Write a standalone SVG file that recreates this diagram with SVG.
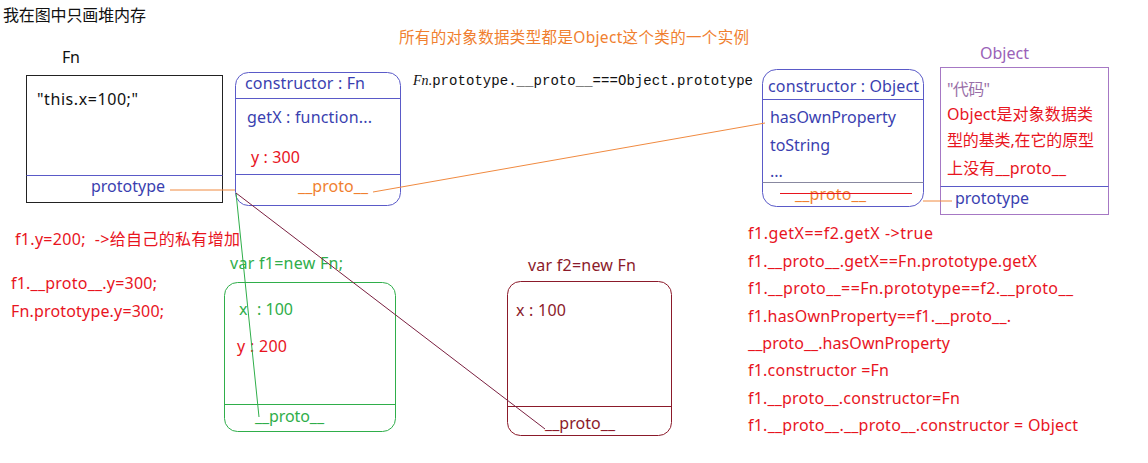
<svg xmlns="http://www.w3.org/2000/svg" width="1148" height="463" viewBox="0 0 1148 463">
<style>
text{font-family:"Noto Sans","Noto Sans CJK SC",sans-serif;font-size:16px}
.blk{fill:#111}
.blu{fill:#3a3fb0}
.red{fill:#e8141e}
.org{fill:#f07f30}
.grn{fill:#2fae4a}
.mar{fill:#8b1a2a}
.pur{fill:#9a62b8}
.box{fill:none;stroke-width:1}
</style>
<rect width="1148" height="463" fill="#fff"/>
<text x="3" y="21" class="blk" textLength="143">我在图中只画堆内存</text>
<text x="399" y="43" class="org" style="font-size:15.5px" textLength="350">所有的对象数据类型都是Object这个类的一个实例</text>
<text x="413" y="85" class="blk" style="font-family:'Liberation Mono',monospace;font-size:14px" textLength="340"><tspan style="font-family:'Liberation Serif',serif;font-style:italic">Fn.</tspan>prototype.__proto__===Object.prototype</text>

<g id="fn">
<text x="62" y="63" class="blk" textLength="18">Fn</text>
<rect x="26.5" y="75.5" width="196" height="127" class="box" stroke="#222"/>
<line x1="26.5" y1="175.5" x2="222.5" y2="175.5" stroke="#5a5ac8"/>
<text x="37" y="105" class="blk" textLength="101">"this.x=100;"</text>
<text x="91" y="192" class="blu" textLength="74">prototype</text>
</g>

<g id="fn-prototype">
<rect x="235.5" y="72.5" width="165" height="133" rx="13" class="box" stroke="#5a5ac8"/>
<line x1="235.5" y1="98.5" x2="400.5" y2="98.5" stroke="#5a5ac8"/>
<line x1="235.5" y1="174.5" x2="400.5" y2="174.5" stroke="#5a5ac8"/>
<text x="245" y="89" class="blu" textLength="120">constructor : Fn</text>
<text x="247" y="123" class="blu" textLength="125">getX : function...</text>
<text x="251" y="163" class="red" textLength="49">y : 300</text>
<text x="298" y="192" class="org" textLength="70">__proto__</text>
</g>

<g id="object-prototype">
<rect x="762.5" y="69.5" width="161" height="137" rx="14" class="box" stroke="#5a5ac8"/>
<line x1="762.5" y1="99.5" x2="923.5" y2="99.5" stroke="#5a5ac8"/>
<line x1="762.5" y1="182.5" x2="923.5" y2="182.5" stroke="#8888a0"/>
<text x="768" y="92" class="blu" textLength="151">constructor : Object</text>
<text x="770" y="123" class="blu" textLength="126">hasOwnProperty</text>
<text x="770" y="151" class="blu" textLength="60">toString</text>
<text x="770" y="177" class="blu">...</text>
<text x="795" y="200" class="org" textLength="71">__proto__</text>
<line x1="780" y1="193.5" x2="912" y2="193.5" stroke="#e8141e"/>
</g>

<g id="object">
<text x="980" y="59" class="pur" textLength="49">Object</text>
<rect x="940.5" y="67.5" width="168" height="147" class="box" stroke="#a678c4"/>
<line x1="940.5" y1="186.5" x2="1108.5" y2="186.5" stroke="#5a5ac8"/>
<text x="947" y="95" class="pur" style="fill:#9a70a8" textLength="43">"代码"</text>
<text x="947" y="120" class="red" textLength="146">Object是对象数据类</text>
<text x="947" y="146" class="red" textLength="147">型的基类,在它的原型</text>
<text x="947" y="174" class="red" textLength="119">上没有__proto__</text>
<text x="955" y="204" class="blu" textLength="74">prototype</text>
</g>

<g id="notes-left">
<text x="15" y="245" class="red" textLength="225" style="white-space:pre">f1.y=200;  -&gt;给自己的私有增加</text>
<text x="11" y="289" class="red" textLength="146">f1.__proto__.y=300;</text>
<text x="11" y="317" class="red" textLength="153">Fn.prototype.y=300;</text>
</g>

<g id="f1">
<text x="230" y="269" class="grn" textLength="113">var f1=new Fn;</text>
<rect x="224.5" y="282.5" width="171" height="149" rx="13" class="box" stroke="#2fae4a"/>
<line x1="224.5" y1="404.5" x2="395.5" y2="404.5" stroke="#2fae4a"/>
<text x="239" y="315" class="grn">x</text>
<text x="257" y="315" class="grn" textLength="36">: 100</text>
<text x="237" y="352" class="red" textLength="50">y : 200</text>
<text x="255" y="422" class="grn" textLength="69">__proto__</text>
</g>

<g id="f2">
<text x="528" y="271" class="mar" textLength="108">var f2=new Fn</text>
<rect x="507.5" y="281.5" width="164" height="154" rx="13" class="box" stroke="#8b1a2a"/>
<line x1="507.5" y1="406.5" x2="671.5" y2="406.5" stroke="#8b1a2a"/>
<text x="516" y="316" class="mar" textLength="50">x : 100</text>
<text x="545" y="429" class="mar" textLength="70">__proto__</text>
</g>

<g id="notes-right">
<text x="748" y="239" class="red" textLength="185">f1.getX==f2.getX -&gt;true</text>
<text x="748" y="267" class="red" textLength="289">f1.__proto__.getX==Fn.prototype.getX</text>
<text x="748" y="294" class="red" textLength="325">f1.__proto__==Fn.prototype==f2.__proto__</text>
<text x="748" y="322" class="red" textLength="263">f1.hasOwnProperty==f1.__proto__.</text>
<text x="748" y="349" class="red" textLength="202">__proto__.hasOwnProperty</text>
<text x="748" y="376" class="red" textLength="141">f1.constructor =Fn</text>
<text x="748" y="404" class="red" textLength="212">f1.__proto__.constructor=Fn</text>
<text x="748" y="431" class="red" textLength="330">f1.__proto__.__proto__.constructor = Object</text>
</g>

<g id="connectors" fill="none" stroke-width="1">
<line x1="170" y1="190" x2="235" y2="190" stroke="#f08a40"/>
<line x1="373" y1="192" x2="765" y2="123" stroke="#f08a40"/>
<line x1="923" y1="201" x2="952" y2="201" stroke="#f08a40"/>
<line x1="236" y1="193" x2="259" y2="417" stroke="#2fae4a"/>
<line x1="236" y1="193" x2="545" y2="429" stroke="#7a2040"/>
</g>
</svg>
